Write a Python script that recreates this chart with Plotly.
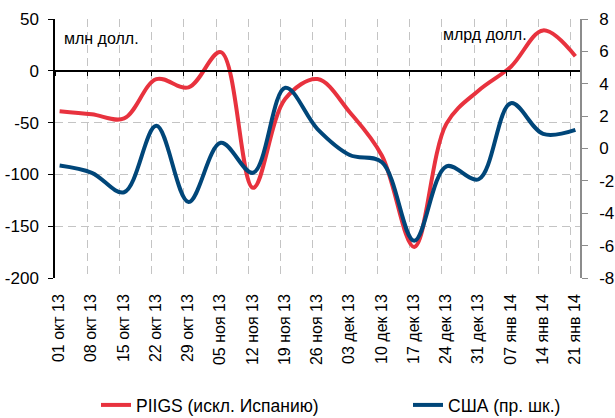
import plotly.graph_objects as go
import pandas as pd

# Подписи оси X (еженедельно)
tick_labels = ["01 окт 13", "08 окт 13", "15 окт 13", "22 окт 13", "29 окт 13",
               "05 ноя 13", "12 ноя 13", "19 ноя 13", "26 ноя 13", "03 дек 13",
               "10 дек 13", "17 дек 13", "24 дек 13", "31 дек 13", "07 янв 14",
               "14 янв 14", "21 янв 14"]
tick_dates = pd.date_range("2013-10-01", periods=len(tick_labels), freq="7D")
data_dates = pd.date_range("2013-10-02", periods=len(tick_labels), freq="7D")

# Шкалы
left_ticks = [-200, -150, -100, -50, 0, 50]
right_ticks = [-8, -6, -4, -2, 0, 2, 4, 6, 8]

# PIIGS (искл. Испанию), млн долл. - левая шкала
piigs = [-39, -42, -46, -8, -16, 18, -113, -27, -8, -40, -82, -170, -51, -19, 4, 39, 14]
# США, млрд долл. - правая шкала
usa = [-1.05, -1.5, -2.7, 1.4, -3.3, 0.35, -1.5, 3.75, 1.2, -0.4, -0.85, -5.7, -1.1, -1.9, 2.8, 0.9, 1.15]

RED = "#E8323E"
BLUE = "#004679"
FONT = "Liberation Sans, Arial, sans-serif"
X_RANGE = ["2013-10-01", "2014-01-23"]

fig = go.Figure()

fig.add_trace(go.Scatter(
    x=data_dates, y=piigs, name="PIIGS (искл. Испанию)", legend="legend",
    mode="lines", line=dict(color=RED, width=4, shape="spline", smoothing=1.0),
))
fig.add_trace(go.Scatter(
    x=data_dates, y=usa, name="США (пр. шк.)", xaxis="x2", yaxis="y2", legend="legend2",
    mode="lines", line=dict(color=BLUE, width=4, shape="spline", smoothing=1.0),
))

legend_common = dict(orientation="h", xref="container", yref="container",
                     y=0.031, yanchor="middle", font=dict(size=17.5),
                     bgcolor="rgba(0,0,0,0)")

fig.update_layout(
    width=615, height=418,
    margin=dict(l=55, r=35, t=19, b=140, autoexpand=False),
    paper_bgcolor="white", plot_bgcolor="white",
    font=dict(family=FONT, size=16, color="black"),
    showlegend=True,
    legend=dict(x=96 / 615, xanchor="left", **legend_common),
    legend2=dict(x=408 / 615, xanchor="left", **legend_common),
    xaxis=dict(
        range=X_RANGE, automargin=False,
        tickmode="array", tickvals=tick_dates, ticktext=tick_labels,
        tickangle=-90, ticklabelshift=4, ticklabelstandoff=12,
        showgrid=True, gridcolor="#C4C4C4", griddash="8px,5px",
        gridwidth=1.3, showline=False, zeroline=False, ticks="",
    ),
    # ось X на нулевой линии левой шкалы (с засечками вниз)
    xaxis2=dict(
        range=X_RANGE, overlaying="x", anchor="free", position=0.8,
        tickmode="array", tickvals=tick_dates, showticklabels=False,
        showgrid=False, zeroline=False, showline=True, linecolor="black",
        linewidth=1.5, ticks="outside", ticklen=4, tickcolor="black", tickwidth=1.3,
    ),
    yaxis=dict(
        range=[-200, 50], automargin=False,
        tickmode="array", tickvals=left_ticks, ticktext=[str(v) for v in left_ticks],
        showgrid=True, gridcolor="#C4C4C4", griddash="8px,5px", gridwidth=1.3,
        showline=True, linecolor="black", linewidth=1.5,
        ticks="outside", ticklen=5, tickcolor="black", tickwidth=1.3,
        ticklabelstandoff=6, tickfont=dict(size=17), zeroline=False,
    ),
    yaxis2=dict(
        range=[-8, 8], overlaying="y", side="right", anchor="x",
        tickmode="array", tickvals=right_ticks, ticktext=[str(v) for v in right_ticks],
        automargin=False, showgrid=False, zeroline=False,
        showline=True, linecolor="#8C8C8C", linewidth=1.5,
        ticks="outside", ticklen=6, tickcolor="#8C8C8C", tickwidth=1.3,
        ticklabelstandoff=8, tickfont=dict(size=17),
    ),
    annotations=[
        dict(text="млн долл.", xref="paper", yref="paper", x=0.013, y=0.923,
             xanchor="left", yanchor="middle", showarrow=False, font=dict(size=16)),
        dict(text="млрд долл.", xref="paper", yref="paper", x=0.735, y=0.942,
             xanchor="left", yanchor="middle", showarrow=False, font=dict(size=16)),
    ],
)

fig.write_html("out.html", config={"displayModeBar": False},
               post_script="document.body.style.margin='0';")
